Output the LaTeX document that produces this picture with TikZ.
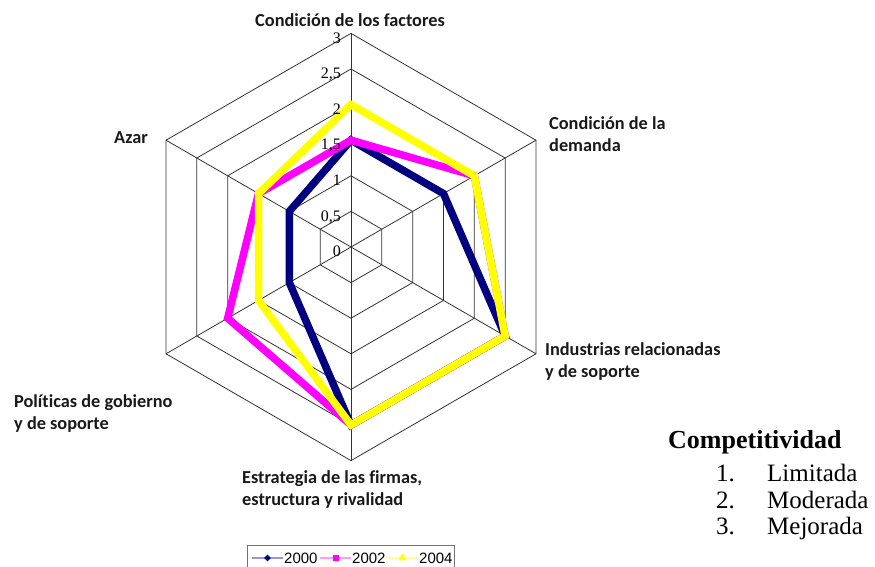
\documentclass[tikz,border=0pt]{standalone}
\usepackage{fontspec}
\setmainfont{Liberation Serif}
\newfontfamily\calfont[Ligatures=NoCommon]{Carlito}
\newfontfamily\arialfont{Liberation Sans}
\usetikzlibrary{shapes.geometric}
\definecolor{navyc}{RGB}{0,0,128}
\definecolor{magc}{RGB}{255,0,255}
\definecolor{yelc}{RGB}{255,255,0}
\definecolor{gridc}{RGB}{50,50,50}
\begin{document}
\begin{tikzpicture}[x=1pt,y=-1pt,
  gridline/.style={draw=gridc,line width=0.8pt},
  axlab/.style={font=\calfont\bfseries\fontsize{18.3}{22}\selectfont, align=left, inner sep=0pt, anchor=north west, text=black!90},
  ticklab/.style={font=\fontsize{16}{16}\selectfont, anchor=north east, inner sep=0pt},
  series/.style={line width=7.5pt, line join=miter},
  legtxt/.style={font=\arialfont\fontsize{15}{15}\selectfont, anchor=west, inner sep=0pt},
  comptxt/.style={font=\fontsize{25}{25}\selectfont, anchor=base west, inner sep=0pt}]
\useasboundingbox (0,0) rectangle (875,567);
\def\cx{351}\def\cy{247}\def\u{71.2}
% rings
\foreach \r in {0.5,1,1.5,2,2.5,3} {
  \draw[gridline] ({\cx},{\cy-\r*\u})
    -- ({\cx+\r*\u*sin(60)},{\cy-\r*\u*cos(60)})
    -- ({\cx+\r*\u*sin(120)},{\cy-\r*\u*cos(120)})
    -- ({\cx},{\cy+\r*\u})
    -- ({\cx+\r*\u*sin(240)},{\cy-\r*\u*cos(240)})
    -- ({\cx+\r*\u*sin(300)},{\cy-\r*\u*cos(300)}) -- cycle;
}
\coordinate (c) at (\cx,\cy);
\foreach \k in {0,...,5} {
  \coordinate (v\k) at ({\cx+3*\u*sin(60*\k)},{\cy-3*\u*cos(60*\k)});
  \draw[gridline] (c) -- (v\k);
}
% series 2000
\foreach \v [count=\k from 0] in {1.5,1.5,2.5,2.5,1,1}
  \coordinate (a\k) at ({\cx+\v*\u*sin(60*\k)},{\cy-\v*\u*cos(60*\k)});
\draw[series,draw=navyc] (a0)--(a1)--(a2)--(a3)--(a4)--(a5)--cycle;
% series 2002
\foreach \v [count=\k from 0] in {1.5,2,2.5,2.5,2,1.5}
  \coordinate (b\k) at ({\cx+\v*\u*sin(60*\k)},{\cy-\v*\u*cos(60*\k)});
\draw[series,draw=magc] (b0)--(b1)--(b2)--(b3)--(b4)--(b5)--cycle;
% series 2004
\foreach \v [count=\k from 0] in {2,2,2.5,2.5,1.5,1.5}
  \coordinate (d\k) at ({\cx+\v*\u*sin(60*\k)},{\cy-\v*\u*cos(60*\k)});
\draw[series,draw=yelc] (d0)--(d1)--(d2)--(d3)--(d4)--(d5)--cycle;
% tick labels
\foreach \r/\t [count=\i] in {0/0,0.5/{0,5},1/1,1.5/{1,5},2/2,2.5/{2,5},3/3}
  \node[ticklab] (t\i) at (341,{\cy-\r*\u-1}) {\t};
% axis labels
\node[axlab,anchor=base] (l0) at (350,27) {Condición de los factores};
\node[axlab] (l1) at (549,116) {Condición de la\\demanda};
\node[axlab] (l2) at (545,342) {Industrias relacionadas\\y de soporte};
\node[axlab] (l3) at (242,470) {Estrategia de las firmas,\\estructura y rivalidad};
\node[axlab] (l4) at (14,394) {Políticas de gobierno\\y de soporte};
\node[axlab] (l5) at (114,131) {Azar};
% legend
\draw[draw=black!55,line width=0.8pt] (247,545) rectangle (454,575);
\coordinate (p1a) at (252,558); \coordinate (p1b) at (283,558);
\draw[navyc!40,line width=1.5pt] (p1a) -- (p1b);
\node[diamond,fill=navyc,inner sep=0pt,minimum size=7pt] (m1) at (267.5,558) {};
\node[legtxt] (g1) at (284,558) {2000};
\coordinate (p2a) at (320,558); \coordinate (p2b) at (351,558);
\draw[magc!40,line width=1.5pt] (p2a) -- (p2b);
\node[rectangle,fill=magc,inner sep=0pt,minimum size=6pt] (m2) at (335.5,558) {};
\node[legtxt] (g2) at (352,558) {2002};
\coordinate (p3a) at (387,558); \coordinate (p3b) at (418,558);
\draw[yelc!40,line width=1.5pt] (p3a) -- (p3b);
\node[regular polygon,regular polygon sides=3,fill=yelc,inner sep=0pt,minimum size=9pt] (m3) at (402.5,558) {};
\node[legtxt] (g3) at (419,558) {2004};
% competitividad
\node[comptxt,font=\bfseries\fontsize{26}{26}\selectfont] (ct) at (668,448) {Competitividad};
\node[comptxt] (n1) at (716,481) {1.};
\node[comptxt] (i1) at (767,481) {Limitada};
\node[comptxt] (n2) at (716,508) {2.};
\node[comptxt] (i2) at (767,508) {Moderada};
\node[comptxt] (n3) at (716,534) {3.};
\node[comptxt] (i3) at (767,534) {Mejorada};
\end{tikzpicture}
\end{document}
